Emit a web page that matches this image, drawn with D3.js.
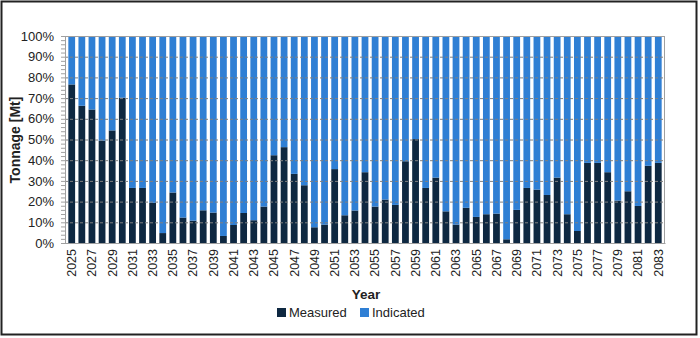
<!DOCTYPE html>
<html><head><meta charset="utf-8">
<script src="https://cdn.jsdelivr.net/npm/d3@7"></script>
<style>
body{margin:0;background:#fff;}
svg{display:block;font-family:"Liberation Sans",Arial,sans-serif;}
</style></head><body>
<svg id="c" width="700" height="338"></svg>
<script>
const years = d3.range(2025, 2084);
const measured = [76.6,66.3,64.5,49.5,54.4,70.2,26.6,26.6,19.4,4.8,24.4,12.3,10.8,15.8,14.7,3.4,8.7,14.5,11.0,17.6,42.4,46.3,33.4,27.9,7.6,8.9,35.7,13.4,15.7,34.2,17.6,21.0,18.4,39.5,50.2,26.6,31.6,15.3,8.9,17.0,12.6,13.9,14.2,1.8,16.0,26.6,25.8,23.2,31.6,13.9,5.8,38.7,38.7,34.2,20.5,25.0,17.9,37.3,38.7];
const indicated = measured.map(v => 100 - v);
const yTicks = [0,10,20,30,40,50,60,70,80,90,100];
const seriesNames = ["Measured","Indicated"];
const colors = ["#0e2841","#2f7fd4"];

const svg = d3.select("#c");
svg.append("rect").attr("x",1.5).attr("y",1.5).attr("width",695).attr("height",333)
  .attr("fill","#fff").attr("stroke","#222").attr("stroke-width",2);

const L=65, R=665, T=36, B=243;
const x = d3.scaleBand().domain(years).range([L,R]).padding(0.33);
const y = d3.scaleLinear().domain([0,100]).range([B,T]);

const data = years.map((yr,i)=>({year:yr, Measured:measured[i], Indicated:indicated[i]}));
const stack = d3.stack().keys(seriesNames)(data);

const g = svg.append("g");
g.selectAll("g.s").data(stack).join("g").attr("fill",(d,i)=>colors[i])
  .selectAll("rect").data(d=>d).join("rect")
  .attr("x",d=>x(d.data.year)).attr("width",x.bandwidth())
  .attr("y",d=>y(d[1])).attr("height",d=>y(d[0])-y(d[1]));

// gridlines
svg.append("g").selectAll("line").data(yTicks.slice(1)).join("line")
  .attr("x1",L).attr("x2",R).attr("y1",d=>y(d)+0.5).attr("y2",d=>y(d)+0.5)
  .attr("stroke","#808080").attr("stroke-width",1).attr("stroke-dasharray","3,2");

// plot border
svg.append("rect").attr("x",L+0.5).attr("y",T+0.5).attr("width",R-L-1).attr("height",B-T)
  .attr("fill","none").attr("stroke","#a0a0a0").attr("stroke-width",1);

// y axis minor ticks
svg.append("g").selectAll("line").data(d3.range(0,101,2)).join("line")
  .attr("x1",L-4).attr("x2",L).attr("y1",d=>y(d)+0.5).attr("y2",d=>y(d)+0.5)
  .attr("stroke","#a0a0a0");

const yAxis = svg.append("g").attr("transform",`translate(${L},0)`)
  .call(d3.axisLeft(y).tickValues(yTicks).tickFormat(d=>d+"%").tickSize(0).tickPadding(11));
yAxis.select(".domain").remove();
yAxis.selectAll("text").attr("font-size",13).attr("fill","#222");

const xAxis = svg.append("g").attr("transform",`translate(0,${B})`)
  .call(d3.axisBottom(x).tickValues(years.filter((d,i)=>i%2===0)).tickSize(0));
xAxis.select(".domain").attr("stroke","#a0a0a0");
xAxis.selectAll("text").attr("font-size",12.5).attr("fill","#222")
  .attr("transform","rotate(-90)").attr("text-anchor","end")
  .attr("x",-6).attr("y",0).attr("dy","0.35em");

svg.append("text").attr("x",366).attr("y",299).attr("text-anchor","middle")
  .attr("font-size",13.5).attr("font-weight","bold").attr("fill","#222").text("Year");
svg.append("text").attr("transform","translate(20,140) rotate(-90)").attr("text-anchor","middle")
  .attr("font-size",14).attr("font-weight","bold").attr("fill","#222").text("Tonnage [Mt]");

const leg = svg.append("g");
const legX = [277, 360];
seriesNames.forEach((n,i)=>{
  leg.append("rect").attr("x",legX[i]).attr("y",308).attr("width",9).attr("height",9).attr("fill",colors[i]);
  leg.append("text").attr("x",legX[i]+12).attr("y",317).attr("font-size",13).attr("fill","#222").text(n);
});
</script></body></html>
